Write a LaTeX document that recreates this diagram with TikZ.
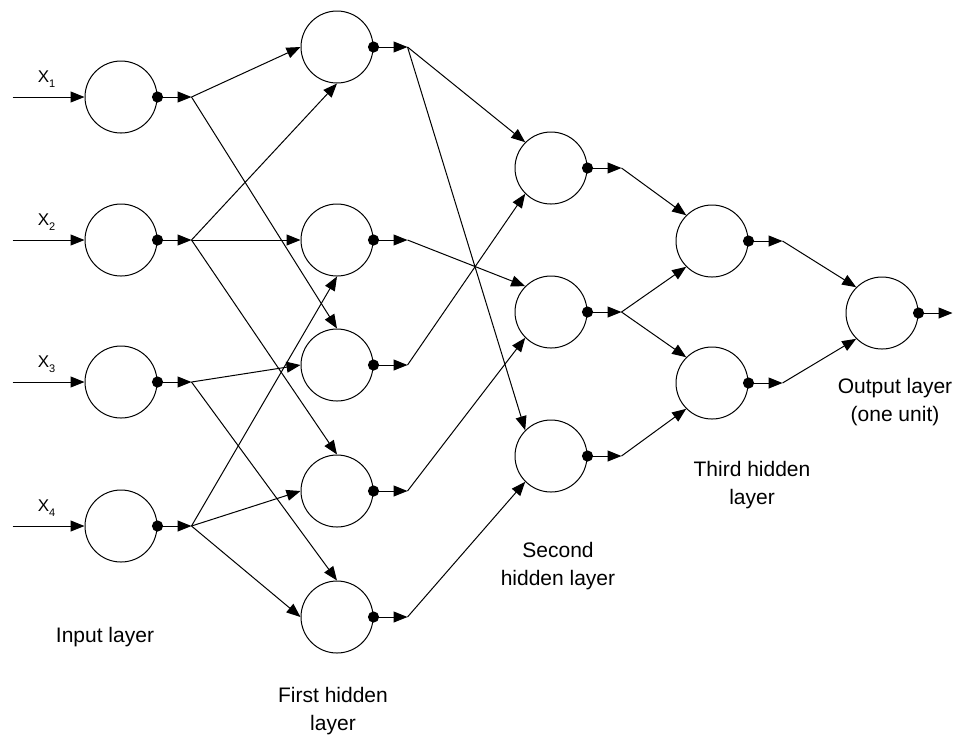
\documentclass[tikz,border=0pt]{standalone}
\usepackage{fontspec}
\setmainfont{Liberation Sans}
\usetikzlibrary{arrows.meta}

\begin{document}
\begin{tikzpicture}[x=0.5pt, y=-0.5pt, >={Triangle[length=7pt, width=5.5pt]}, line width=0.5pt,
    neuron/.style={draw, circle, minimum size=36pt, inner sep=0pt},
    layertext/.style={font=\fontsize{10.5}{14}\selectfont, align=center},
    xlabel/.style={font=\fontsize{8.5}{9}\selectfont, inner sep=0pt}]
    \useasboundingbox (0,0) rectangle (957,736);

    % input layer
    \node[neuron] (i1) at (121,97) {};
    \node[neuron] (i2) at (121,240) {};
    \node[neuron] (i3) at (121,382) {};
    \node[neuron] (i4) at (121,526) {};
    % first hidden layer
    \node[neuron] (h1) at (337,47) {};
    \node[neuron] (h2) at (337,240) {};
    \node[neuron] (h3) at (337,365) {};
    \node[neuron] (h4) at (337,491) {};
    \node[neuron] (h5) at (337,617) {};
    % second hidden layer
    \node[neuron] (s1) at (551,168) {};
    \node[neuron] (s2) at (551,312) {};
    \node[neuron] (s3) at (551,456) {};
    % third hidden layer
    \node[neuron] (t1) at (712,241) {};
    \node[neuron] (t2) at (712,383) {};
    % output
    \node[neuron] (o) at (882,313) {};

    % inputs x_k
    \foreach \k in {1,...,4} {
        \coordinate (in\k) at ([xshift=-36pt]i\k.west);
        \draw[->] (in\k) -- (i\k.west);
        \node[xlabel] (xl\k) at ([xshift=-19pt, yshift=9pt]i\k.west)
            {X\raisebox{-2.5pt}{\fontsize{5.5}{6}\selectfont\k}};
    }

    % output dot and short arrow of each unit
    \foreach \n in {i1,i2,i3,i4,h1,h2,h3,h4,h5,s1,s2,s3,t1,t2,o} {
        \fill (\n.east) circle (2.8pt);
        \coordinate (b\n) at ([xshift=17pt]\n.east);
        \draw[->] (\n.east) -- (b\n);
    }

    % input -> first hidden
    \foreach \a/\b in {bi1/h1.west, bi1/h3.north,
                       bi2/h1.south, bi2/h2.west, bi2/h4.north,
                       bi3/h3.west, bi3/h5.north,
                       bi4/h2.south, bi4/h4.west, bi4/h5.west}
        \draw[->] (\a) -- (\b);

    % first hidden -> second hidden
    \foreach \a/\b in {bh1/s1.north west, bh1/s3.north west,
                       bh2/s2.north west, bh3/s1.south west,
                       bh4/s2.south west, bh5/s3.south west}
        \draw[->] (\a) -- (\b);

    % second hidden -> third hidden -> output
    \foreach \a/\b in {bs1/t1.north west, bs2/t1.south west,
                       bs2/t2.north west, bs3/t2.south west,
                       bt1/o.north west, bt2/o.south west}
        \draw[->] (\a) -- (\b);

    % layer names
    \node[layertext] (lin) at (105,637) {Input layer};
    \node[layertext] (lh1) at (333,711) {First hidden\\layer};
    \node[layertext] (lh2) at (558,566) {Second\\hidden layer};
    \node[layertext] (lh3) at (752,485) {Third hidden\\layer};
    \node[layertext] (lout) at (895,402) {Output layer\\(one unit)};
\end{tikzpicture}
\end{document}
